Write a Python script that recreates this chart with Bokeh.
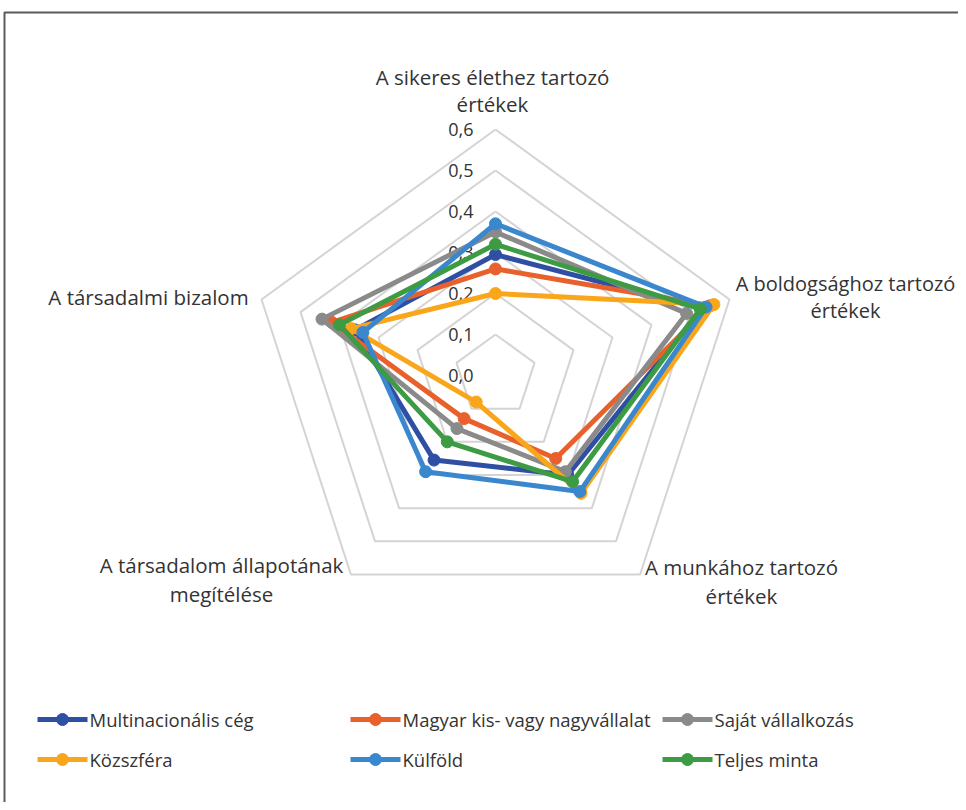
import numpy as np
from bokeh.plotting import figure
from bokeh.models import Range1d
from bokeh.embed import file_html
from bokeh.resources import INLINE
from bokeh.core.properties import value

# ---------------- data ----------------
categories = [
    ["A sikeres élethez tartozó", "értékek"],
    ["A boldogsághoz tartozó", "értékek"],
    ["A munkához tartozó", "értékek"],
    ["A társadalom állapotának", "megítélése"],
    ["A társadalmi bizalom"],
]
series_names = ["Multinacionális cég", "Magyar kis- vagy nagyvállalat", "Saját vállalkozás",
                "Közszféra", "Külföld", "Teljes minta"]
multinacionalis = [0.295, 0.53, 0.30, 0.255, 0.36]
magyar = [0.26, 0.55, 0.25, 0.13, 0.42]
sajat = [0.35, 0.49, 0.29, 0.16, 0.445]
kozszfera = [0.20, 0.56, 0.355, 0.08, 0.37]
kulfold = [0.37, 0.54, 0.35, 0.29, 0.34]
teljes = [0.32, 0.525, 0.32, 0.20, 0.40]
tick_values = [0.0, 0.1, 0.2, 0.3, 0.4, 0.5, 0.6]
tick_labels = ["0,0", "0,1", "0,2", "0,3", "0,4", "0,5", "0,6"]

series_values = [multinacionalis, magyar, sajat, kozszfera, kulfold, teljes]
colors = ["#2E4FA3", "#E8602C", "#8A8A8A", "#FAA61A", "#3A87CE", "#3C9B43"]

# ---------------- layout ----------------
W, H = 958, 802
CX, CY = 495, 375          # screenshot coords of radar centre
SCALE = 410.0              # px per unit value
FONT = "Open Sans"
TXT = "#333333"


def page(px, py):
    """screenshot pixel -> data coords (data = px relative to centre, y up)"""
    return px - CX, CY - py


p = figure(width=W, height=H, output_backend="svg", toolbar_location=None,
           x_range=Range1d(-CX, W - CX),
           y_range=Range1d(-(H - CY), CY),
           min_border=0, min_border_left=0, min_border_right=0,
           min_border_top=0, min_border_bottom=0)
p.axis.visible = False
p.grid.visible = False
p.outline_line_color = None
p.background_fill_color = "white"
p.border_fill_color = "white"

# chart-area frame (left and top edges)
fx0, fy0 = page(4, 12)
fx1, fy1 = page(W + 10, H + 10)
p.line([fx0, fx0, fx1], [fy1, fy0, fy0], line_color="#5A5A5A", line_width=2)

n = len(categories)
angles = np.deg2rad(90 - 72 * np.arange(n))


def polar(vals):
    r = np.asarray(vals) * SCALE
    return r * np.cos(angles), r * np.sin(angles)


# grid pentagons
for t in tick_values[1:]:
    gx, gy = polar([t] * n)
    p.line(list(gx) + [gx[0]], list(gy) + [gy[0]], line_color="#D4D4D4", line_width=2)

# tick labels
tx = [page(473, 0)[0]] * len(tick_values)
ty = [t * SCALE for t in tick_values]
p.text(tx, ty, text=tick_labels, text_align="right", text_baseline="middle",
       text_font=value(FONT), text_font_size="18px", text_color=TXT)

# series
for vals, c in zip(series_values, colors):
    sx, sy = polar(vals)
    p.line(list(sx) + [sx[0]], list(sy) + [sy[0]], line_color=c, line_width=5)
    p.scatter(sx, sy, size=12, fill_color=c, line_color=c, marker="circle")

# category labels
label_pos = [(492, 76, 27, 20.5), (845, 283, 27, 20), (741, 566, 29, 20.5),
             (221, 564, 29, 20.5), (148, 296, 27, 20.5)]
for lines, (lx, ly, lh, fs) in zip(categories, label_pos):
    for k, s in enumerate(lines):
        dx, dy = page(lx, ly + k * lh)
        p.text([dx], [dy], text=[s], text_align="center", text_baseline="middle",
               text_font=value(FONT), text_font_size=f"{fs}px", text_color=TXT)

# legend
leg_cols = [(37, 87), (350, 400), (662, 712)]
leg_rows = [719, 759]
for i, (name, c) in enumerate(zip(series_names, colors)):
    x0, x1 = leg_cols[i % 3]
    yy = leg_rows[i // 3]
    a0, b0 = page(x0, yy)
    a1, _ = page(x1, yy)
    p.line([a0, a1], [b0, b0], line_color=c, line_width=5)
    p.scatter([(a0 + a1) / 2], [b0], size=12, fill_color=c, line_color=c)
    tx0, _ = page(x1 + 2, yy)
    p.text([tx0], [b0], text=[name], text_align="left", text_baseline="middle",
           text_font=value(FONT), text_font_size="18.5px", text_color=TXT)

open("out.html", "w").write(file_html(p, INLINE))
